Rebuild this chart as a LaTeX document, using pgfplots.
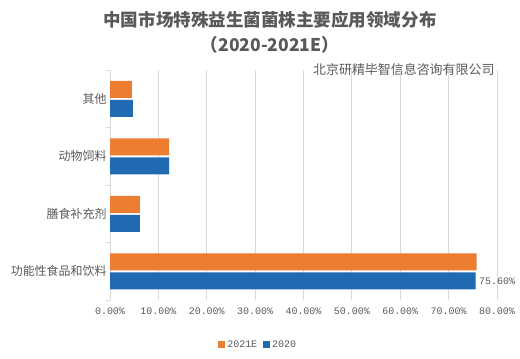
\documentclass[border=0pt]{standalone}
\usepackage{fontspec}
\setmainfont{Noto Sans CJK SC}
\newfontfamily\cjk{Noto Sans CJK SC}
\newfontfamily\monof{Liberation Mono}
\usepackage{pgfplots}
\pgfplotsset{compat=1.18}
\definecolor{cOr}{HTML}{ED7D31}
\definecolor{cBl}{HTML}{1F6AB0}
\definecolor{txt}{HTML}{595959}
\definecolor{grd}{HTML}{D9D9D9}
\begin{document}
\begin{tikzpicture}
\path[use as bounding box] (0,0) rectangle (520bp,-359bp);
\node[font=\cjk\bfseries\fontsize{17.6}{20}\selectfont, text=txt] at (270bp,-20bp) {中国市场特殊益生菌菌株主要应用领域分布};
\node[font=\cjk\bfseries\fontsize{17.6}{20}\selectfont, text=txt] at (270bp,-45bp) {（2020-2021E）};
\node[font=\cjk\fontsize{13}{15}\selectfont, text=txt, anchor=east] at (498bp,-70bp) {北京研精毕智信息咨询有限公司};
\begin{axis}[
  at={(110bp,-300bp)}, anchor=south west,
  width=387bp, height=230bp, scale only axis,
  xbar, bar width=17bp,
  xmin=0, xmax=80,
  ymin=-0.5, ymax=3.5,
  xtick={0,10,...,80},
  xticklabels={0.00\%,10.00\%,20.00\%,30.00\%,40.00\%,50.00\%,60.00\%,70.00\%,80.00\%},
  xticklabel style={font=\monof\fontsize{10}{11}\selectfont, text=txt, yshift=-4bp},
  ytick={0,1,2,3},
  yticklabels={功能性食品和饮料,膳食补充剂,动物饲料,其他},
  yticklabel style={font=\cjk\fontsize{12}{14}\selectfont, text=txt},
  major tick length=0pt,
  minor ytick={-0.5,0.5,1.5,2.5,3.5},
  minor tick length=4bp,
  minor tick style={grd, line width=0.8pt},
  tick align=outside,
  xmajorgrids, major grid style={grd, line width=0.8pt},
  axis x line*=bottom,
  x axis line style={draw=none},
  axis y line*=left,
  y axis line style={grd, line width=0.8pt, -},
  xtick style={draw=none},
  legend style={at={(0.383,-0.195)}, anchor=center, draw=none, legend columns=2,
    font=\monof\fontsize{10}{11}\selectfont, text=txt,
    /tikz/every even column/.append style={column sep=4bp}},
  legend image code/.code={\fill[#1] (0bp,-3.5bp) rectangle (7bp,3.5bp);},
  clip=false,
]
\addplot[fill=cOr, draw=none, bar shift=9.5bp] coordinates {(75.8,0) (6.2,1) (12.2,2) (4.5,3)};
\addlegendentry{2021E}
\addplot[fill=cBl, draw=none, bar shift=-9.5bp,
  point meta=explicit symbolic, nodes near coords,
  nodes near coords style={font=\monof\fontsize{10}{11}\selectfont, text=txt, anchor=west, xshift=0bp}]
  coordinates {(75.6,0) [75.60\%] (6.2,1) [] (12.2,2) [] (4.75,3) []};
\addlegendentry{2020}
\end{axis}
\end{tikzpicture}
\end{document}
